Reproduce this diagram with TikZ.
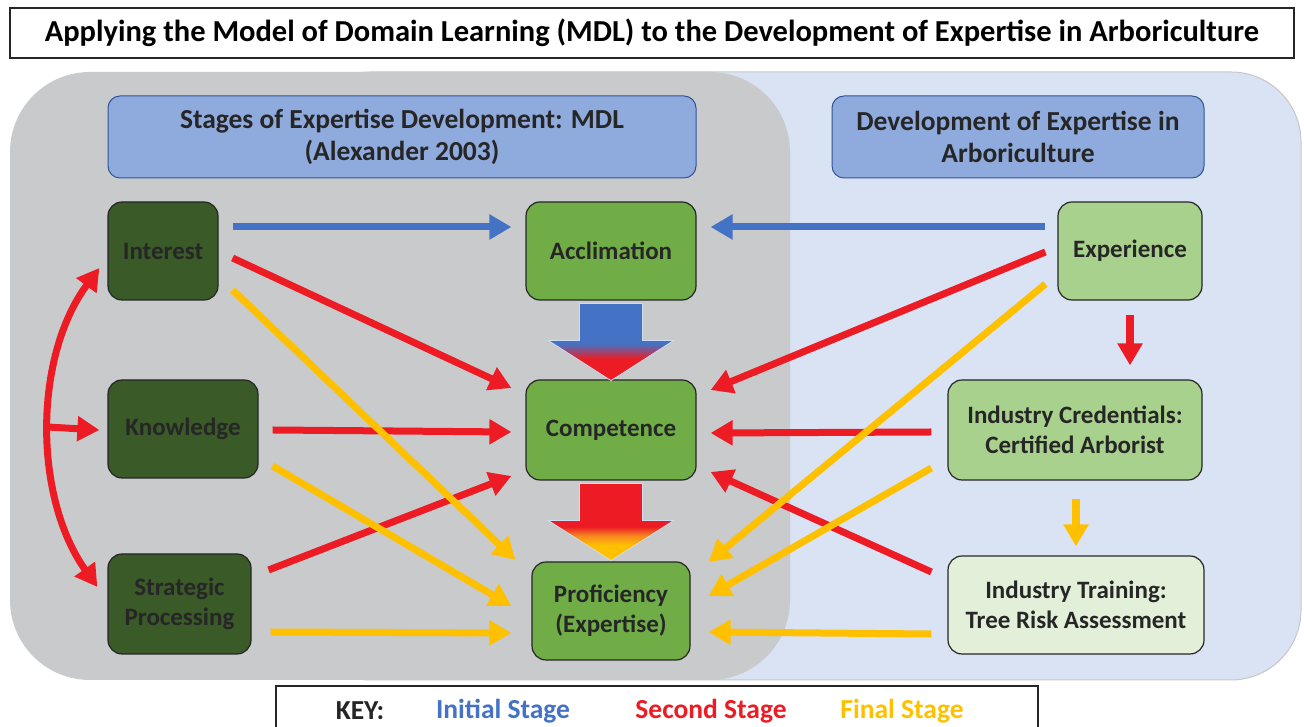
\documentclass[tikz,border=0pt]{standalone}
\usepackage{fontspec}
\setmainfont{Carlito}
\usepackage{xcolor}
\usepackage{tikz}
\usetikzlibrary{arrows.meta,positioning}

\definecolor{stageblue}{HTML}{4472C4}
\definecolor{stagered}{HTML}{ED1C24}
\definecolor{stageyellow}{HTML}{FFC000}
\definecolor{stageorange}{HTML}{F7891F}
\definecolor{mdlgrey}{HTML}{C9CACC}
\definecolor{arbblue}{HTML}{DAE3F3}
\definecolor{headblue}{HTML}{8FAADC}
\definecolor{headedge}{HTML}{2F5597}
\definecolor{darkgreen}{HTML}{3A5A28}
\definecolor{midgreen}{HTML}{70AD47}
\definecolor{lightgreen}{HTML}{A9D18E}
\definecolor{palegreen}{HTML}{E2F0D9}
\definecolor{inktext}{HTML}{262626}

% colour runs of the two big stage arrows (0bp = tip, 100bp = tail)
\pgfdeclareverticalshading{bluetored}{100bp}{color(0bp)=(stagered); color(39bp)=(stagered); color(49bp)=(stageblue); color(100bp)=(stageblue)}
\pgfdeclareverticalshading{redtoyellow}{100bp}{color(0bp)=(stageyellow); color(35bp)=(stageyellow); color(41bp)=(stageorange); color(47bp)=(stagered); color(100bp)=(stagered)}

\tikzset{
	stage/.style={draw=inktext, line width=1.2pt, rounded corners=14pt, align=center, text=inktext, inner sep=2pt, minimum height=98pt, font=\fontsize{25}{30}\selectfont\bfseries},
	mdl/.style={stage, fill=darkgreen},
	level/.style={stage, fill=midgreen},
	arb/.style={stage, fill=lightgreen},
	header/.style={draw=headedge, fill=headblue, line width=1pt, rounded corners=12pt, align=center, text=inktext, minimum height=82pt, font=\fontsize{27.5}{32}\selectfont\bfseries},
	framebox/.style={draw=black!85, fill=white, line width=1.2pt, inner sep=0pt},
	keytext/.style={font=\fontsize{27.5}{30}\selectfont\bfseries},
	link/.style={line width=7pt, ->},
	bigarrow/.style={draw=stageblue!25, line width=.8pt}
}

\newcommand\stagearrow[2]{%
	\shadedraw[bigarrow, shading=#2] ([shift={(-31.5,-3)}]#1) -- ++(63,0) -- ++(0,-37) -- ++(31,0) -- ++(-62.5,-40) -- ++(-62.5,40) -- ++(31,0) -- cycle;}

\begin{document}
\begin{tikzpicture}[x=1pt, y=1pt, >={Triangle[length=22pt,width=24pt]}]
	\useasboundingbox (0,0) rectangle (1304,727);

	% the two backdrops
	\filldraw[fill=arbblue, draw=black!22, line width=1pt, rounded corners=70pt] (300,47) rectangle (1301,655);
	\fill[mdlgrey, rounded corners=80pt] (10,47) rectangle (790,655);

	\node[framebox, minimum width=1284pt, minimum height=50pt, font=\fontsize{30.5}{34}\selectfont\bfseries] (title) at (652,694) {Applying the Model of Domain Learning (MDL) to the Development of Expertise in Arboriculture};

	\node[header, minimum width=588pt] (mdlhead) at (402,590) {Stages of Expertise Development: MDL\\(Alexander 2003)};
	\node[header, minimum width=372pt] (arbhead) at (1018,590) {Development of Expertise in\\Arboriculture};

	\node[mdl, minimum width=110pt] (interest) at (163,476) {Interest};
	\node[mdl, minimum width=150pt] (knowledge) at (183,298) {Knowledge};
	\node[mdl, minimum width=143pt, minimum height=100pt] (strategic) at (179.5,123) {Strategic\\Processing};

	\node[level, minimum width=170pt] (acclimation) at (611,476) {Acclimation};
	\node[level, minimum width=170pt, minimum height=100pt] (competence) at (611,297) {Competence};
	\node[level, minimum width=158pt] (proficiency) at (611,116) {Proficiency\\(Expertise)};

	\node[arb, minimum width=144pt] (experience) at (1130,476) {Experience};
	\node[arb, minimum width=254pt, minimum height=100pt] (credentials) at (1075,297) {Industry Credentials:\\Certified Arborist};
	\node[stage, fill=palegreen, minimum width=256pt] (training) at (1076,122) {Industry Training:\\Tree Risk Assessment};

	\stagearrow{acclimation.south}{bluetored}
	\stagearrow{competence.south}{redtoyellow}

	% initial stage
	\draw[link, stageblue] ([shift={(14,24)}]interest.east) -- ([shift={(-14,24)}]acclimation.west);
	\draw[link, stageblue] ([shift={(-12,24)}]experience.west) -- ([shift={(14,24)}]acclimation.east);

	% second stage
	\draw[link, stagered] ([shift={(14,-7)}]interest.east) -- ([shift={(-14,42)}]competence.west);
	\draw[link, stagered] ([shift={(14,-1)}]knowledge.east) -- ([shift={(-14,-2)}]competence.west);
	\draw[link, stagered] ([shift={(17,34)}]strategic.east) -- ([shift={(-14,-46)}]competence.west);
	\draw[link, stagered] ([shift={(-12,-1)}]experience.west) -- ([shift={(14,40)}]competence.east);
	\draw[link, stagered] ([shift={(-16,-2)}]credentials.west) -- ([shift={(14,-3)}]competence.east);
	\draw[link, stagered] ([shift={(-16,33)}]training.west) -- ([shift={(14,-42)}]competence.east);
	\draw[link, stagered, line width=8pt] ([shift={(0,-14)}]experience.south) -- ([shift={(55,14)}]credentials.north);

	% final stage
	\draw[link, stageyellow] ([shift={(14,-39)}]interest.east) -- ([shift={(-16,51)}]proficiency.west);
	\draw[link, stageyellow] ([shift={(14,-37)}]knowledge.east) -- ([shift={(-20,5)}]proficiency.west);
	\draw[link, stageyellow] ([shift={(19,-28)}]strategic.east) -- ([shift={(-20,-22)}]proficiency.west);
	\draw[link, stageyellow] ([shift={(-12,-33)}]experience.west) -- ([shift={(18,49)}]proficiency.east);
	\draw[link, stageyellow] ([shift={(-16,-38)}]credentials.west) -- ([shift={(18,15)}]proficiency.east);
	\draw[link, stageyellow] ([shift={(-16,-29)}]training.west) -- ([shift={(18,-21)}]proficiency.east);
	\draw[link, stageyellow, line width=8pt] ([shift={(1,-18)}]credentials.south) -- ([shift={(0,9)}]training.north);

	% loop joining the three learner components
	\draw[link, stagered, <->] ([shift={(-8,-17)}]interest.west) .. controls +(-66,-89) and +(-64,90) .. coordinate[pos=.5] (loopmid) ([shift={(-10,17)}]strategic.west);
	\draw[link, stagered] (loopmid) -- ([shift={(-8,-1)}]knowledge.west);

	% key
	\node[framebox, minimum width=762pt, minimum height=52pt] (key) at (657,15) {};
	\node[keytext, text=inktext] (keylabel) at (360,16) {KEY:};
	\node[keytext, text=stageblue] (keyinitial) at (503,16) {Initial Stage};
	\node[keytext, text=stagered] (keysecond) at (711,16) {Second Stage};
	\node[keytext, text=stageyellow] (keyfinal) at (902,16) {Final Stage};
\end{tikzpicture}
\end{document}
